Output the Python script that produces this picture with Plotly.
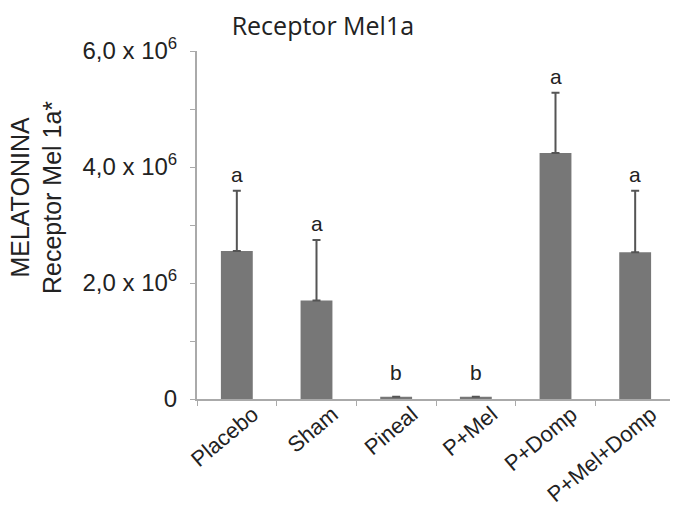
import plotly.graph_objects as go

categories = ["Placebo", "Sham", "Pineal", "P+Mel", "P+Domp", "P+Mel+Domp"]
means = [2.55e6, 1.70e6, 0.04e6, 0.04e6, 4.24e6, 2.53e6]
errors = [1.04e6, 1.04e6, 0.0, 0.0, 1.04e6, 1.06e6]
letters = ["a", "a", "b", "b", "a", "a"]
ytick_vals = [0, 2e6, 4e6, 6e6]
ytick_text = ["0", "2,0 x 10<sup>6</sup>", "4,0 x 10<sup>6</sup>", "6,0 x 10<sup>6</sup>"]

fig = go.Figure()
fig.add_trace(go.Bar(
    x=categories, y=means,
    marker=dict(color="#777777", line=dict(width=0)),
    width=0.4,
    error_y=dict(type="data", array=errors, arrayminus=[0]*len(errors),
                 symmetric=False, color="#555555", thickness=2, width=4),
))

for c, m, e, l in zip(categories, means, errors, letters):
    fig.add_annotation(x=c, y=m + e, text=l, showarrow=False, yanchor="bottom",
                       yshift=3 if e > 0 else 11,
                       font=dict(family="Liberation Sans, Arial", size=21, color="#222"))

fig.add_annotation(xref="paper", yref="paper", x=-0.337, y=0.580, textangle=-90,
                   xanchor="center", yanchor="middle",
                   text="MELATONINA<br>Receptor Mel 1a*", showarrow=False,
                   font=dict(family="Liberation Sans, Arial", size=25, color="#222"))

fig.update_layout(
    width=670, height=497,
    margin=dict(l=189, r=3, t=43, b=106),
    plot_bgcolor="white", paper_bgcolor="white",
    showlegend=False,
    title=dict(text="Receptor Mel1a", x=0.47, xanchor="center", y=0.964, yanchor="middle",
               font=dict(family="Open Sans", size=25, color="#222")),
)
fig.update_xaxes(
    automargin=False,
    showline=True, linecolor="#aaaaaa", linewidth=2,
    ticks="outside", tickson="boundaries", tickcolor="#aaaaaa", ticklen=5,
    tickangle=-40, ticklabelshift=16, ticklabelstandoff=-8,
    tickfont=dict(family="Liberation Sans, Arial", size=22, color="#222"),
    showgrid=False,
)
fig.update_yaxes(
    automargin=False,
    range=[0, 6e6], showline=True, linecolor="#aaaaaa", linewidth=2,
    ticks="outside", tickcolor="#aaaaaa", ticklen=5, ticklabelstandoff=8,
    tickvals=ytick_vals, ticktext=ytick_text,
    tickfont=dict(family="Liberation Sans, Arial", size=24, color="#222"),
    minor=dict(dtick=1e6, ticks="outside", ticklen=5, tickcolor="#aaaaaa", showgrid=False),
    showgrid=False, zeroline=False,
)

fig.write_html("out.html")
